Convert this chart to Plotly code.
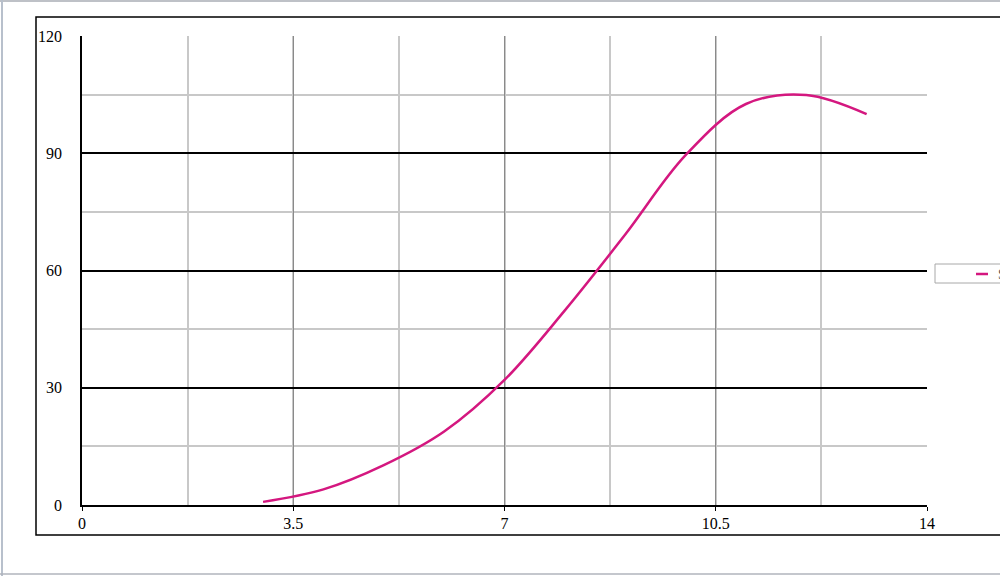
import plotly.graph_objects as go

# values
x_vals = [3, 4, 5, 6, 7, 8, 9, 10, 11, 12, 13]
y_vals = [0.8, 4.0, 10.2, 18.8, 32.0, 49.8, 69.2, 89.5, 102.6, 104.9, 100.0]
series_name = "Series1"
line_color = "#d4177f"

x_ticks = [0, 3.5, 7, 10.5, 14]
x_labels = ["0", "3.5", "7", "10.5", "14"]
y_ticks = [0, 30, 60, 90, 120]
y_labels = ["0", "30", "60", "90", "120"]

W, H = 1000, 576
L, R, T, B = 82, 73, 36, 71


def px(xp):
    # screen pixel -> paper fraction
    return (xp - L) / (W - L - R)


def py(yp):
    return (H - B - yp) / (H - T - B)


fig = go.Figure()
fig.add_trace(go.Scatter(
    x=x_vals, y=y_vals, name=series_name,
    mode="lines", showlegend=False,
    line=dict(color=line_color, width=2.5, shape="spline", smoothing=1),
))

fig.update_layout(
    width=W, height=H,
    margin=dict(l=L, r=R, t=T, b=B, autoexpand=False),
    paper_bgcolor="white", plot_bgcolor="white",
    font=dict(family="Liberation Serif", size=16, color="black"),
    xaxis=dict(
        range=[0, 14], tickvals=x_ticks, ticktext=x_labels,
        showline=True, linecolor="black", linewidth=1.5,
        ticks="outside", ticklen=4, tickcolor="black",
        ticklabelstandoff=-1,
        showgrid=True, gridcolor="#8a8a8a", gridwidth=1,
        minor=dict(dtick=1.75, showgrid=True, gridcolor="#c8c8c8", gridwidth=1.5),
        zeroline=False, fixedrange=True,
    ),
    yaxis=dict(
        range=[0, 120], tickvals=y_ticks, ticktext=y_labels,
        showline=True, linecolor="black", linewidth=1.5,
        ticks="", ticklabelstandoff=15,
        showgrid=True, gridcolor="black", gridwidth=1.5,
        minor=dict(dtick=15, showgrid=True, gridcolor="#c8c8c8", gridwidth=1.5),
        zeroline=False, fixedrange=True,
    ),
    shapes=[
        # chart frame
        dict(type="rect", xref="paper", yref="paper",
             x0=px(36), x1=px(1010), y0=py(535), y1=py(17),
             line=dict(color="black", width=1.5), layer="below"),
        # legend box and key (runs off the right edge like the original)
        dict(type="rect", xref="paper", yref="paper",
             x0=px(935), x1=px(1010), y0=py(283), y1=py(264),
             line=dict(color="#a8a8a8", width=1), fillcolor="white"),
        dict(type="line", xref="paper", yref="paper",
             x0=px(976), x1=px(988), y0=py(274), y1=py(274),
             line=dict(color=line_color, width=2.5)),
        # window border
        dict(type="line", xref="paper", yref="paper",
             x0=px(0), x1=px(1000), y0=py(1), y1=py(1),
             line=dict(color="#a8acb4", width=1.5)),
        dict(type="line", xref="paper", yref="paper",
             x0=px(2), x1=px(2), y0=py(0), y1=py(576),
             line=dict(color="#b8c0cc", width=2)),
        dict(type="line", xref="paper", yref="paper",
             x0=px(0), x1=px(1000), y0=py(574), y1=py(574),
             line=dict(color="#b0b4bc", width=1.5)),
    ],
    annotations=[
        dict(text=series_name, xref="paper", yref="paper",
             x=px(996), y=py(274), xanchor="left", yanchor="middle",
             showarrow=False, font=dict(size=14, color="#555")),
    ],
)

fig.write_html(
    "out.html",
    config={"displayModeBar": False},
    post_script="document.body.style.margin='0';",
)
